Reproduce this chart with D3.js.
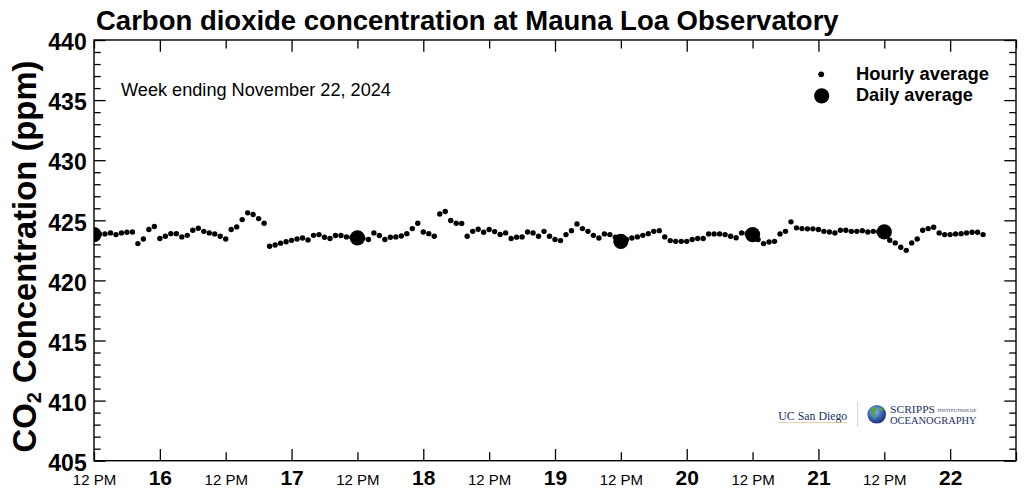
<!DOCTYPE html>
<html>
<head>
<meta charset="utf-8">
<script src="https://cdn.jsdelivr.net/npm/d3@7"></script>
<style>
  html, body { margin: 0; padding: 0; background: #fff; }
  svg { display: block; }
</style>
</head>
<body>
<svg id="chart" width="1027" height="500"></svg>
<script>
// ---------------- data ----------------
const titleText = "Carbon dioxide concentration at Mauna Loa Observatory";
const subtitleText = "Week ending November 22, 2024";
const yLabelMain = "CO";
const yLabelSub = "2";
const yLabelRest = " Concentration (ppm)";
const legendLabels = ["Hourly average", "Daily average"];

// hourly averages, first value at 2024-11-15 12:00, one per hour
const hourlyStart = "2024-11-15T12:00:00";
const hourlyValues = [
  423.80, 423.85, 423.87, 423.95, 423.81, 423.95, 424.00, 424.03, 423.06, 423.45,
  424.23, 424.48, 423.48, 423.67, 423.89, 423.89, 423.62, 423.75, 424.17, 424.34,
  424.08, 423.95, 423.87, 423.67, 423.45, 424.23, 424.45, 425.06, 425.62, 425.48,
  425.14, 424.75, 422.84, 422.95, 423.10, 423.22, 423.33, 423.45, 423.53, 423.37,
  423.75, 423.81, 423.59, 423.48, 423.73, 423.73, 423.62, 423.60, 423.55, 423.50,
  423.40, 423.95, 423.73, 423.40, 423.59, 423.62, 423.70, 423.89, 424.31, 424.75,
  424.03, 423.89, 423.67, 425.53, 425.73, 424.98, 424.75, 424.73, 423.67, 424.08,
  424.25, 424.00, 424.23, 424.06, 423.82, 423.95, 423.49, 423.60, 423.62, 424.03,
  423.95, 423.67, 424.08, 423.67, 423.40, 423.31, 423.81, 424.14, 424.70, 424.31,
  424.08, 423.75, 423.53, 423.87, 423.81, 423.60, 423.30, 423.40, 423.53, 423.62,
  423.75, 423.89, 424.08, 424.14, 423.62, 423.31, 423.25, 423.25, 423.25, 423.40,
  423.48, 423.48, 423.87, 423.87, 423.87, 423.81, 423.67, 423.55, 423.95, 423.90,
  423.80, 423.40, 423.06, 423.20, 423.25, 423.87, 424.08, 424.87, 424.37, 424.31,
  424.29, 424.29, 424.23, 424.08, 424.03, 423.95, 424.17, 424.17, 424.08, 424.08,
  424.14, 424.03, 424.08, 424.05, 424.00, 423.34, 423.12, 422.76, 422.50, 423.12,
  423.45, 424.17, 424.31, 424.42, 423.95, 423.81, 423.81, 423.87, 423.89, 423.95,
  424.00, 424.00, 423.81
];

// daily averages, plotted at 12 PM of each day
const dailyDates = ["2024-11-15", "2024-11-17", "2024-11-19", "2024-11-20", "2024-11-21"];
const dailyValues = [423.81, 423.53, 423.25, 423.81, 424.03];

// axes
const xStart = "2024-11-15T12:00:00";
const xEnd = "2024-11-22T12:00:00";
const yMin = 405, yMax = 440;
const yMajorTicks = [405, 410, 415, 420, 425, 430, 435, 440];

// ---------------- drawing ----------------
const svg = d3.select("#chart");
const FONT = '"Liberation Sans", Arial, Helvetica, sans-serif';
const SERIF = '"Liberation Serif", "DejaVu Serif", Times, serif';
const pLeft = 94, pRight = 1016, pTop = 40, pBottom = 460.7;

const x = d3.scaleTime().domain([new Date(xStart), new Date(xEnd)]).range([pLeft, pRight]);
const y = d3.scaleLinear().domain([yMin, yMax]).range([pBottom, pTop]);

function fitWidth(sel, target) {
  const w = sel.node().getComputedTextLength();
  const fs = parseFloat(sel.attr("font-size"));
  sel.attr("font-size", (fs * target / w).toFixed(2));
}

// clip
const defs = svg.append("defs");
defs.append("clipPath").attr("id", "plotclip")
  .append("rect").attr("x", pLeft).attr("y", pTop).attr("width", pRight - pLeft).attr("height", pBottom - pTop);

// title
const title = svg.append("text").attr("x", 96).attr("y", 30).style("font-family", FONT)
  .attr("font-size", 24).attr("font-weight", "bold").attr("fill", "#000").text(titleText);
fitWidth(title, 743);

// x ticks: every 12 hours
const xTicks = d3.timeHour.every(12).range(new Date(xStart), new Date(new Date(xEnd).getTime() + 1000));
const isMidnight = d => d.getHours() === 0;

const xAxisB = svg.append("g").attr("transform", `translate(0,${pBottom})`)
  .call(d3.axisBottom(x).tickValues(xTicks).tickSizeOuter(0).tickSizeInner(-12).tickPadding(0));
xAxisB.select(".domain").remove();
xAxisB.selectAll(".tick line").attr("stroke", "#000").attr("stroke-width", 1.3)
  .attr("y2", d => isMidnight(d) ? -11.7 : -8.5);
xAxisB.selectAll(".tick text")
  .attr("y", 24.3).attr("dy", null)
  .attr("font-family", FONT).attr("fill", "#000")
  .attr("font-size", d => isMidnight(d) ? 21 : 15)
  .attr("font-weight", d => isMidnight(d) ? "bold" : "normal")
  .text(d => {
    if (+d === +new Date(xEnd)) return "";
    return isMidnight(d) ? d3.timeFormat("%-d")(d) : "12 PM";
  });

const xAxisT = svg.append("g").attr("transform", `translate(0,${pTop})`)
  .call(d3.axisTop(x).tickValues(xTicks).tickSizeOuter(0).tickSizeInner(-12).tickFormat(""));
xAxisT.select(".domain").remove();
xAxisT.selectAll(".tick line").attr("stroke", "#000").attr("stroke-width", 1.3)
  .attr("y2", d => isMidnight(d) ? 11.7 : 8.5);

// y ticks: every 1 ppm
const yTicks = d3.range(yMin, yMax + 1, 1);
const isMajorY = v => yMajorTicks.includes(v);
const yAxisL = svg.append("g").attr("transform", `translate(${pLeft},0)`)
  .call(d3.axisLeft(y).tickValues(yTicks).tickSizeOuter(0).tickSizeInner(-12).tickPadding(0));
yAxisL.select(".domain").remove();
yAxisL.selectAll(".tick line").attr("stroke", "#000").attr("stroke-width", 1.3)
  .attr("x2", d => isMajorY(d) ? 11.7 : 6.7);
yAxisL.selectAll(".tick text")
  .attr("x", -7.3).attr("dy", null).attr("y", 9.7)
  .attr("font-family", FONT).attr("fill", "#000")
  .attr("font-size", 23).attr("font-weight", "bold")
  .text(d => isMajorY(d) ? d : "");

const yAxisR = svg.append("g").attr("transform", `translate(${pRight},0)`)
  .call(d3.axisRight(y).tickValues(yTicks).tickSizeOuter(0).tickSizeInner(-12).tickFormat(""));
yAxisR.select(".domain").remove();
yAxisR.selectAll(".tick line").attr("stroke", "#000").attr("stroke-width", 1.3)
  .attr("x2", d => isMajorY(d) ? -11.7 : -6.7);

// frame
svg.append("rect").attr("x", pLeft).attr("y", pTop).attr("width", pRight - pLeft).attr("height", pBottom - pTop)
  .attr("fill", "none").attr("stroke", "#000").attr("stroke-width", 1.4);

// y label
const yl = svg.append("text").style("font-family", FONT)
  .attr("transform", `translate(35.5,256.5) rotate(-90)`)
  .attr("text-anchor", "middle").attr("font-size", 30).attr("font-weight", "bold").attr("fill", "#000");
yl.append("tspan").text(yLabelMain);
yl.append("tspan").attr("font-size", 20).attr("dy", 5).text(yLabelSub);
yl.append("tspan").attr("dy", -5).text(yLabelRest);
fitWidth(yl, 393);

// subtitle
const sub = svg.append("text").attr("x", 121).attr("y", 96).style("font-family", FONT)
  .attr("font-size", 16).attr("fill", "#000").text(subtitleText);
fitWidth(sub, 270);

// data
const startT = new Date(hourlyStart).getTime();
const hourly = hourlyValues.map((v, i) => ({ t: new Date(startT + i * 3600e3), v }));
const daily = dailyDates.map((d, i) => ({ t: new Date(d + "T12:00:00"), v: dailyValues[i] }));

const plot = svg.append("g").attr("clip-path", "url(#plotclip)");
plot.selectAll("circle.h").data(hourly).join("circle").attr("class", "h")
  .attr("cx", d => x(d.t)).attr("cy", d => y(d.v)).attr("r", 2.7).attr("fill", "#000");
plot.selectAll("circle.d").data(daily).join("circle").attr("class", "d")
  .attr("cx", d => x(d.t)).attr("cy", d => y(d.v)).attr("r", 7.6).attr("fill", "#000");

// legend
const lg = svg.append("g");
lg.append("circle").attr("cx", 821.2).attr("cy", 74.3).attr("r", 2.9).attr("fill", "#000");
lg.append("circle").attr("cx", 821.7).attr("cy", 95.8).attr("r", 7.6).attr("fill", "#000");
const l1 = lg.append("text").attr("x", 856).attr("y", 79.6).style("font-family", FONT)
  .attr("font-size", 16).attr("font-weight", "bold").text(legendLabels[0]);
fitWidth(l1, 133);
const l2 = lg.append("text").attr("x", 856).attr("y", 100.8).style("font-family", FONT)
  .attr("font-size", 16).attr("font-weight", "bold").text(legendLabels[1]);
fitWidth(l2, 117);

// logos
const navy = "#1b2f5e";
const lo = svg.append("g");
lo.append("text").attr("x", 778.3).attr("y", 419.5).style("font-family", SERIF)
  .attr("font-size", 13).attr("fill", navy)
  .attr("textLength", 69).attr("lengthAdjust", "spacingAndGlyphs").text("UC San Diego");
lo.append("line").attr("x1", 778.3).attr("x2", 847.3).attr("y1", 422.6).attr("y2", 422.6)
  .attr("stroke", "#d9c48c").attr("stroke-width", 0.8);
lo.append("line").attr("x1", 857.7).attr("x2", 857.7).attr("y1", 401.7).attr("y2", 426.7)
  .attr("stroke", "#d0d0d0").attr("stroke-width", 1);
const grad = defs.append("radialGradient").attr("id", "globe").attr("cx", "40%").attr("cy", "35%").attr("r", "65%");
grad.append("stop").attr("offset", "0%").attr("stop-color", "#8fc3ec");
grad.append("stop").attr("offset", "55%").attr("stop-color", "#3a6cc0");
grad.append("stop").attr("offset", "100%").attr("stop-color", "#1d2f78");
lo.append("circle").attr("cx", 876.7).attr("cy", 414.3).attr("r", 9.3).attr("fill", "url(#globe)");
lo.append("path").attr("d", "M871,408 q3,-2 5,0 q1,3 -1,5 q2,3 0,6 q-2,-1 -2,-4 q-3,-2 -2,-7 z").attr("fill", "#5aa04a");
lo.append("path").attr("d", "M879,407 q3,0 4,3 q-1,2 -3,1 q-2,-2 -1,-4 z").attr("fill", "#5aa04a");
lo.append("text").attr("x", 890).attr("y", 412.8).style("font-family", SERIF).attr("font-size", 9.5)
  .attr("fill", navy).attr("textLength", 45).attr("lengthAdjust", "spacingAndGlyphs").text("SCRIPPS");
lo.append("text").attr("x", 937.5).attr("y", 411.5).style("font-family", SERIF).attr("font-size", 4.2)
  .attr("fill", navy).attr("textLength", 39).attr("lengthAdjust", "spacingAndGlyphs").text("INSTITUTION OF");
lo.append("text").attr("x", 890).attr("y", 424).style("font-family", SERIF).attr("font-size", 9.5)
  .attr("fill", navy).attr("textLength", 86.7).attr("lengthAdjust", "spacingAndGlyphs").text("OCEANOGRAPHY");
</script>
</body>
</html>
